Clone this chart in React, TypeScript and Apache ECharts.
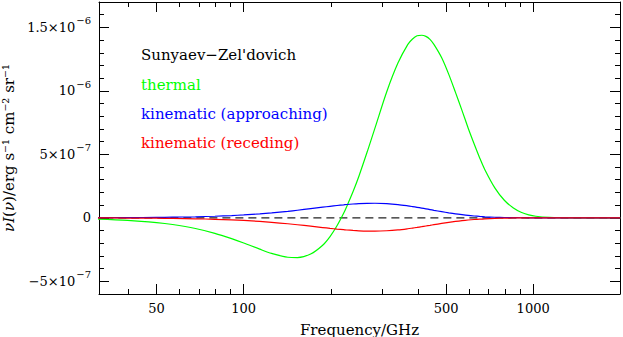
import React, { useEffect, useRef } from "react";
import * as echarts from "echarts";

// Frequencies (GHz) at which the curves were read
const freqGHz = [
  30, 39.7, 50, 56.8, 68.1, 79.5, 90.8, 100, 113.6, 124.9, 142, 153.3, 170.3, 187.4, 198.7,
  210, 221.4, 227, 238.5, 250, 266.9, 284, 312, 341, 369, 383, 397, 411.7, 426, 440, 454,
  483, 511, 539, 568, 596, 625, 653, 681, 738, 795, 852, 908, 965, 1022, 1136, 1249, 1500, 2000,
];

// nu*I(nu) in erg s^-1 cm^-2 sr^-1
const thermal = [
  -8.6e-9, -1.96e-8, -3.71e-8, -5.24e-8, -8.39e-8, -1.22e-7, -1.638e-7, -1.98e-7, -2.468e-7,
  -2.802e-7, -3.106e-7, -3.128e-7, -2.849e-7, -2.158e-7, -1.476e-7, -6.26e-8, 3.6e-8, 9.0e-8,
  2.05e-7, 3.277e-7, 5.18e-7, 7.065e-7, 9.936e-7, 1.2189e-6, 1.3665e-6, 1.409e-6, 1.4341e-6,
  1.438e-6, 1.4291e-6, 1.406e-6, 1.3659e-6, 1.2605e-6, 1.13e-6, 9.88e-7, 8.444e-7, 7.08e-7,
  5.837e-7, 4.74e-7, 3.791e-7, 2.341e-7, 1.386e-7, 7.92e-8, 4.39e-8, 2.37e-8, 1.25e-8, 3.3e-9,
  8e-10, 0, 0,
];

const kinApproach = [
  7.7e-10, 1.77e-9, 3.44e-9, 4.96e-9, 8.27e-9, 1.26e-8, 1.79e-8, 2.28e-8, 3.12e-8, 3.89e-8,
  5.13e-8, 5.97e-8, 7.22e-8, 8.39e-8, 9.09e-8, 9.72e-8, 1.023e-7, 1.049e-7, 1.089e-7, 1.118e-7,
  1.145e-7, 1.15e-7, 1.118e-7, 1.044e-7, 9.43e-8, 8.86e-8, 8.27e-8, 7.67e-8, 7.08e-8, 6.51e-8,
  5.93e-8, 4.87e-8, 3.93e-8, 3.12e-8, 2.45e-8, 1.89e-8, 1.45e-8, 1.1e-8, 8.2e-9, 4.5e-9, 2.4e-9,
  1.25e-9, 6.4e-10, 3.2e-10, 1.6e-10, 4e-11, 1e-11, 0, 0,
];

const kinRecede = [
  -7.0e-10, -1.62e-9, -3.14e-9, -4.53e-9, -7.55e-9, -1.149e-8, -1.635e-8, -2.083e-8, -2.85e-8,
  -3.55e-8, -4.68e-8, -5.45e-8, -6.59e-8, -7.66e-8, -8.3e-8, -8.87e-8, -9.34e-8, -9.57e-8,
  -9.94e-8, -1.021e-7, -1.045e-7, -1.05e-7, -1.02e-7, -9.53e-8, -8.61e-8, -8.08e-8, -7.55e-8,
  -7.0e-8, -6.46e-8, -5.94e-8, -5.41e-8, -4.44e-8, -3.59e-8, -2.85e-8, -2.23e-8, -1.73e-8,
  -1.32e-8, -1.0e-8, -7.5e-9, -4.1e-9, -2.2e-9, -1.1e-9, -5.8e-10, -3.0e-10, -1.4e-10, -4e-11,
  -1e-11, 0, 0,
];

const zeroLineFreq = [30, 2000];
const zeroLineValue = [0, 0];

// Axis ticks
const xMajorTicks = [50, 100, 500, 1000];
const xMinorTicks = [40, 60, 70, 80, 90, 200, 300, 400, 600, 700, 800, 900];
const yMajorTicks = [-5e-7, 0, 5e-7, 1e-6, 1.5e-6];
const yMajorLabels = [
  "{b|−5×10}{s|−7}",
  "{b|0}",
  "{b|5×10}{s|−7}",
  "{b|10}{s|−6}",
  "{b|1.5×10}{s|−6}",
];
const yMinorTicks = [
  -4e-7, -3e-7, -2e-7, -1e-7, 1e-7, 2e-7, 3e-7, 4e-7, 6e-7, 7e-7, 8e-7, 9e-7, 1.1e-6, 1.2e-6,
  1.3e-6, 1.4e-6, 1.6e-6,
];
const xLogMin = 1.5;
const xLogMax = 3.3;
const yMin = -6e-7;
const yMax = 1.7e-6;

const legendTitle = "Sunyaev−Zel'dovich";
const seriesNames = ["thermal", "kinematic (approaching)", "kinematic (receding)"];
const seriesColors = ["#00ff00", "#0000ff", "#ff0000"];

const FONT = "'DejaVu Serif', serif";

export default function App() {
  const ref = useRef<HTMLDivElement>(null);
  useEffect(() => {
    if (!ref.current) return;
    const chart = echarts.init(ref.current, undefined, { renderer: "svg" });
    const toPts = (vals: number[]) => freqGHz.map((f, i) => [Math.log10(f), vals[i]]);
    const lineBase = (name: string, color: string, vals: number[], z: number) => ({
      name,
      type: "line",
      xAxisIndex: 0,
      yAxisIndex: 0,
      data: toPts(vals),
      showSymbol: false,
      symbol: "none",
      smooth: 0.3,
      z,
      lineStyle: { color, width: 1.2 },
      silent: true,
    });
    const xAx = (position: string, ticks: number[], len: number, withLine: boolean, labels: boolean) => ({
      type: "value",
      position,
      min: xLogMin,
      max: xLogMax,
      axisLine: { show: withLine, onZero: false, lineStyle: { color: "#000", width: 1 } },
      axisTick: {
        show: true,
        inside: true,
        length: len,
        customValues: ticks.map((t) => Math.log10(t)),
        lineStyle: { color: "#000", width: 1 },
      },
      axisLabel: labels
        ? {
            show: true,
            customValues: ticks.map((t) => Math.log10(t)),
            formatter: (v: number) => String(Math.round(Math.pow(10, v))),
            color: "#000",
            fontFamily: FONT,
            fontSize: 13,
            margin: 8,
          }
        : { show: false },
      splitLine: { show: false },
      ...(labels
        ? {
            name: "Frequency/GHz",
            nameLocation: "middle",
            nameGap: 28,
            nameTextStyle: { color: "#000", fontFamily: FONT, fontSize: 15 },
          }
        : {}),
    });
    const yAx = (position: string, ticks: number[], len: number, withLine: boolean, labels: boolean) => ({
      type: "value",
      position,
      min: yMin,
      max: yMax,
      axisLine: { show: withLine, onZero: false, lineStyle: { color: "#000", width: 1 } },
      axisTick: {
        show: true,
        inside: true,
        length: len,
        customValues: ticks,
        lineStyle: { color: "#000", width: 1 },
      },
      axisLabel: labels
        ? {
            show: true,
            customValues: ticks,
            formatter: (v: number) => {
              const idx = yMajorTicks.findIndex((t) => Math.abs(t - v) < 1e-12);
              return idx >= 0 ? yMajorLabels[idx] : "";
            },
            color: "#000",
            fontFamily: FONT,
            fontSize: 13,
            margin: 8,
            rich: {
              b: { fontFamily: FONT, fontSize: 13, lineHeight: 13, padding: [5, 0, 5, 0], color: "#000" },
              s: { fontFamily: FONT, fontSize: 10, lineHeight: 10, padding: [0, 0, 13, 1], color: "#000" },
            },
          }
        : { show: false },
      splitLine: { show: false },
      ...(labels
        ? {
            name: "{i|νI}({i|ν})/erg s⁻¹ cm⁻² sr⁻¹",
            nameLocation: "middle",
            nameRotate: 90,
            nameGap: 77,
            nameTextStyle: {
              color: "#000",
              fontFamily: FONT,
              fontSize: 15,
              rich: { i: { fontStyle: "italic", fontFamily: FONT, fontSize: 15, color: "#000" } },
            },
          }
        : {}),
    });

    const legendX = 141;
    const legendYs = [55, 84.5, 113.5, 142.5];
    const legendTexts = [legendTitle, ...seriesNames];
    const legendColors = ["#000", ...seriesColors];

    chart.setOption({
      animation: false,
      backgroundColor: "#fff",
      grid: { left: 99, right: 3, top: 2, bottom: 43, containLabel: false, outerBoundsMode: "none" },
      xAxis: [
        xAx("bottom", xMajorTicks, 10, true, true),
        xAx("bottom", xMinorTicks, 5, false, false),
        xAx("top", xMajorTicks, 10, true, false),
        xAx("top", xMinorTicks, 5, false, false),
      ],
      yAxis: [
        yAx("left", yMajorTicks, 10, true, true),
        yAx("left", yMinorTicks, 5, false, false),
        yAx("right", yMajorTicks, 10, true, false),
        yAx("right", yMinorTicks, 5, false, false),
      ],
      series: [
        {
          name: "zero",
          type: "line",
          xAxisIndex: 0,
          yAxisIndex: 0,
          data: zeroLineFreq.map((f, i) => [Math.log10(f), zeroLineValue[i]]),
          showSymbol: false,
          symbol: "none",
          z: 1,
          lineStyle: { color: "#222", width: 1.2, type: [8, 5] },
          silent: true,
        },
        lineBase(seriesNames[0], seriesColors[0], thermal, 2),
        lineBase(seriesNames[1], seriesColors[1], kinApproach, 3),
        lineBase(seriesNames[2], seriesColors[2], kinRecede, 4),
      ],
      graphic: legendTexts.map((t, i) => ({
        type: "text",
        x: legendX,
        y: legendYs[i],
        silent: true,
        style: {
          text: t,
          fill: legendColors[i],
          fontFamily: FONT,
          fontSize: 15,
          verticalAlign: "middle",
          align: "left",
        },
      })),
    });
    return () => chart.dispose();
  }, []);
  return (
    <div
      ref={ref}
      style={{ position: "absolute", left: 0, top: 0, width: 623, height: 337 }}
    />
  );
}
